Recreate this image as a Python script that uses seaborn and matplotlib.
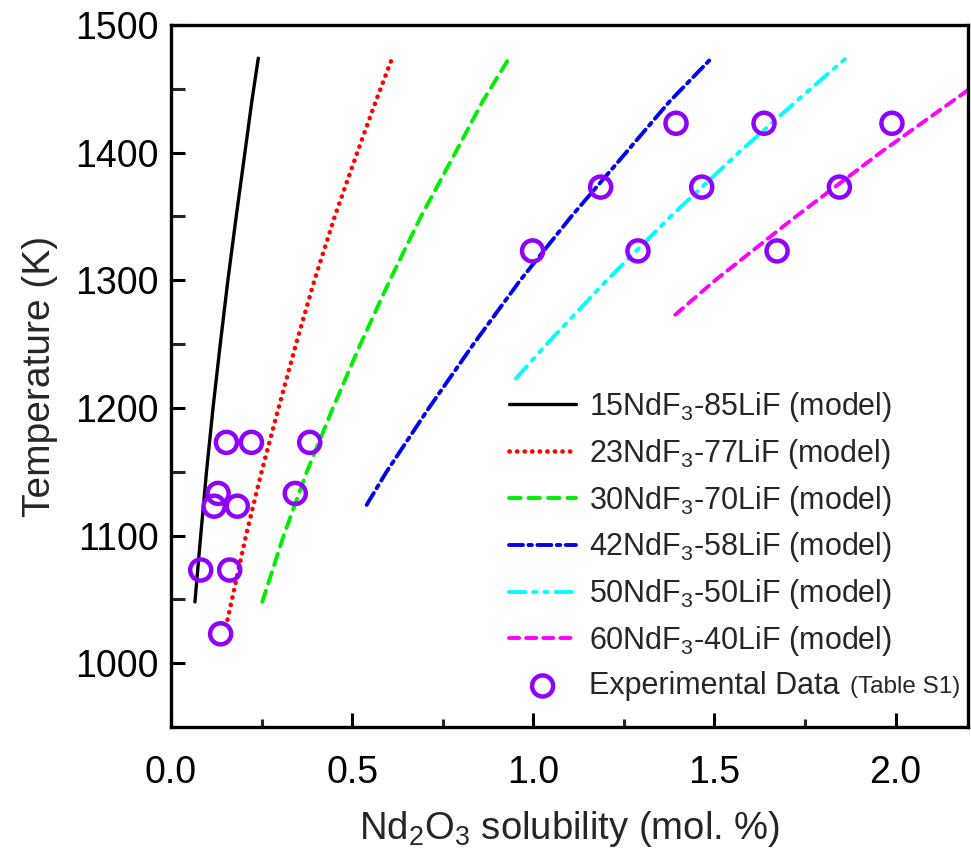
import numpy as np
import pandas as pd
import matplotlib
matplotlib.use("Agg")
import matplotlib.pyplot as plt
import seaborn as sns

# ---------------- data ----------------
series_labels = [
    "15NdF$_\\mathregular{3}$-85LiF (model)",
    "23NdF$_\\mathregular{3}$-77LiF (model)",
    "30NdF$_\\mathregular{3}$-70LiF (model)",
    "42NdF$_\\mathregular{3}$-58LiF (model)",
    "50NdF$_\\mathregular{3}$-50LiF (model)",
    "60NdF$_\\mathregular{3}$-40LiF (model)",
]

m15_T = [1048, 1100, 1150, 1200, 1250, 1300, 1350, 1400, 1440, 1474]
m15_x = [0.066, 0.082, 0.098, 0.116, 0.136, 0.157, 0.180, 0.204, 0.223, 0.241]

m23_T = [1034, 1100, 1150, 1200, 1250, 1300, 1350, 1400, 1440, 1473]
m23_x = [0.156, 0.207, 0.250, 0.297, 0.345, 0.396, 0.452, 0.514, 0.565, 0.609]

m30_T = [1048, 1100, 1150, 1200, 1250, 1300, 1350, 1400, 1440, 1474]
m30_x = [0.252, 0.311, 0.375, 0.447, 0.523, 0.604, 0.690, 0.785, 0.860, 0.933]

m42_T = [1124, 1150, 1200, 1250, 1300, 1350, 1400, 1440, 1474]
m42_x = [0.540, 0.595, 0.712, 0.835, 0.964, 1.105, 1.256, 1.376, 1.492]

m50_T = [1223, 1250, 1300, 1350, 1400, 1440, 1474]
m50_x = [0.952, 1.037, 1.203, 1.379, 1.567, 1.725, 1.863]

m60_T = [1273, 1300, 1350, 1400, 1449, 1474]
m60_x = [1.392, 1.502, 1.725, 1.958, 2.200, 2.327]

exp_T = [1023, 1073, 1073, 1123, 1123, 1133, 1133, 1173, 1173, 1173,
         1323, 1323, 1323, 1373, 1373, 1373, 1423, 1423, 1423]
exp_x = [0.137, 0.082, 0.162, 0.119, 0.183, 0.130, 0.343, 0.153, 0.222, 0.383,
         0.998, 1.289, 1.673, 1.186, 1.465, 1.845, 1.394, 1.637, 1.990]
exp_label = "Experimental Data"
exp_note = "(Table S1)"

x_ticks = [0.0, 0.5, 1.0, 1.5, 2.0]
y_ticks = [1000, 1100, 1200, 1300, 1400, 1500]
x_label = "Nd$_\\mathregular{2}$O$_\\mathregular{3}$ solubility (mol. %)"
y_label = "Temperature (K)"

# ---------------- styles ----------------
colors = ["#000000", "#FF0000", "#00EE00", "#0000EE", "#00FFFF", "#FF00FF"]
styles = ["-", (0, (0.05, 1.6)), (0, (3.0, 2.0)), (0, (3.6, 1.4, 0.9, 1.4)),
          (0, (4.2, 2.0, 0.9, 2.0, 0.9, 2.0)), (0, (2.6, 1.8))]
widths = [2.4, 3.3, 2.8, 2.8, 2.8, 2.8]
exp_color = "#8F00FF"

sns.set_theme(style="ticks")
plt.rcParams["font.family"] = ["Liberation Sans", "DejaVu Sans"]
plt.rcParams["mathtext.fontset"] = "custom"
plt.rcParams["mathtext.rm"] = "Liberation Sans"
plt.rcParams["mathtext.it"] = "Liberation Sans:italic"
plt.rcParams["mathtext.bf"] = "Liberation Sans:bold"

fig = plt.figure(figsize=(9.71, 8.52), dpi=100)
ax = fig.add_axes([171 / 971, 1 - 727 / 852, (968 - 171) / 971, (727 - 25) / 852])

model_T = [m15_T, m23_T, m30_T, m42_T, m50_T, m60_T]
model_x = [m15_x, m23_x, m30_x, m42_x, m50_x, m60_x]
for lab, xs, ts, c, ls, lw in zip(series_labels, model_x, model_T, colors, styles, widths):
    df = pd.DataFrame({"x": xs, "T": ts})
    sns.lineplot(data=df, x="x", y="T", ax=ax, color=c, linestyle=ls, linewidth=lw,
                 label=lab, estimator=None, sort=False, zorder=2,
                 dash_capstyle="round")

edf = pd.DataFrame({"x": exp_x, "T": exp_T})
sns.scatterplot(data=edf, x="x", y="T", ax=ax, marker="o", s=230,
                facecolors="none", edgecolor=exp_color, linewidth=3.2,
                label=exp_label, zorder=3)

ax.set_xlim(0, 2.2)
ax.set_ylim(950, 1500)
ax.set_xticks(x_ticks)
ax.set_xticklabels([f"{v:.1f}" for v in x_ticks])
ax.set_yticks(y_ticks)
ax.set_xticks([0.25, 0.75, 1.25, 1.75], minor=True)
ax.set_yticks([1050, 1150, 1250, 1350, 1450], minor=True)
ax.tick_params(axis="both", which="major", direction="in", length=10, width=2.2,
               labelsize=27, pad=9, colors="black")
ax.tick_params(axis="x", which="minor", direction="in", length=6, width=2.2)
ax.tick_params(axis="y", which="minor", direction="in", length=10, width=2.2)
ax.tick_params(axis="x", which="major", pad=20)
for sp in ax.spines.values():
    sp.set_linewidth(2.4)
    sp.set_color("black")
    sp.set_visible(True)

ax.set_xlabel(x_label, fontsize=27.5, labelpad=13)
ax.set_ylabel(y_label, fontsize=28, labelpad=12)

handles, labels = ax.get_legend_handles_labels()
leg = ax.legend(handles, labels, loc="upper left",
                bbox_to_anchor=(509 / 971, 1 - 390 / 852), bbox_transform=fig.transFigure,
                frameon=False, fontsize=22, handlelength=2.2, handletextpad=0.42,
                labelspacing=0.42, borderpad=0, borderaxespad=0)

fig.canvas.draw()
renderer = fig.canvas.get_renderer()
last = leg.get_texts()[-1]
bb = last.get_window_extent(renderer)
fig.text((bb.x1 + 10) / fig.bbox.width, (bb.y0 + 3) / fig.bbox.height, exp_note,
         fontsize=17.5, ha="left", va="bottom")

fig.savefig("out.png", dpi=100)
